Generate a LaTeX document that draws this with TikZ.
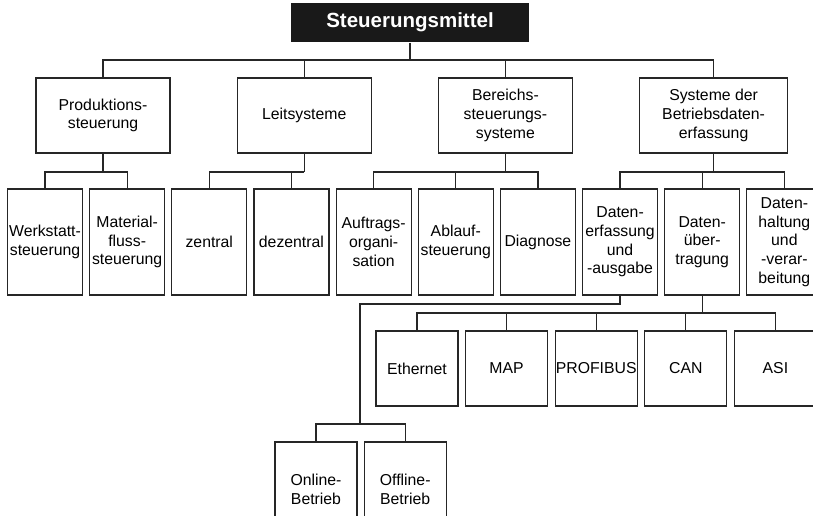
\documentclass[tikz,border=0pt]{standalone}
\usepackage{fontspec}
\setmainfont{Liberation Sans}
\usetikzlibrary{positioning}

\begin{document}
\begin{tikzpicture}[x=1pt, y=-1pt, line width=1.2pt, draw=black!85,
  every node/.style={font=\fontsize{15.8}{18.7}\selectfont, align=center, inner sep=0pt},
  topbox/.style={fill=black!90, text=white, font=\fontsize{20.5}{24}\selectfont\bfseries,
    minimum width=238pt, minimum height=39pt},
  groupbox/.style={draw, minimum width=134pt, minimum height=75pt},
  subbox/.style={draw, minimum width=75pt, minimum height=106pt},
  busbox/.style={draw, minimum width=82pt, minimum height=75pt},
  modebox/.style={draw, minimum width=82pt, minimum height=95pt}]
\useasboundingbox (0,0) rectangle (813,515);
\clip (0,0) rectangle (813,515);

% root and first level
\node (mittel) [topbox] at (410,22.5) {Steuerungsmittel};
\node (prod) [groupbox] at (103,115.5) {Produktions-\\steuerung};
\node (leit) [groupbox, right=66pt of prod] {Leitsysteme};
\node (ber) [groupbox, right=66pt of leit] {Bereichs-\\steuerungs-\\systeme};
\node (bde) [groupbox, minimum width=148pt, right=66pt of ber] {Systeme der\\Betriebsdaten-\\erfassung};

% second level
\node (werk) [subbox] at (45,242) {Werkstatt-\\steuerung};
\node (mat) [subbox, right=5.95pt of werk] {Material-\\fluss-\\steuerung};
\node (zent) [subbox, right=5.95pt of mat] {zentral};
\node (dez) [subbox, right=5.95pt of zent] {dezentral};
\node (auf) [subbox, right=5.95pt of dez] {Auftrags-\\organi-\\sation};
\node (abl) [subbox, right=5.95pt of auf] {Ablauf-\\steuerung};
\node (diag) [subbox, right=5.95pt of abl] {Diagnose};
\node (erf) [subbox, right=5.95pt of diag] {Daten-\\erfassung\\und\\-ausgabe};
\node (uebt) [subbox, right=5.95pt of erf] {Daten-\\über-\\tragung};
\node (halt) [subbox, right=5.95pt of uebt] {Daten-\\haltung\\und\\-verar-\\beitung};

% bus systems
\node (eth) [busbox] at (417,368.5) {Ethernet};
\node (map) [busbox, right=6.4pt of eth] {MAP};
\node (prof) [busbox, right=6.4pt of map] {PROFIBUS};
\node (can) [busbox, right=6.4pt of prof] {CAN};
\node (asi) [busbox, right=6.4pt of can] {ASI};

% operating modes
\node (onl) [modebox] at (316,489.5) {Online-\\Betrieb};
\node (offl) [modebox, right=6pt of onl] {Offline-\\Betrieb};

\coordinate (bus0) at (410,60);
\coordinate (bus1) at (0,172);
\coordinate (bus2) at (0,313);
\coordinate (knee) at (360,304);
\coordinate (bus3) at (0,424);

\draw (mittel) -- (bus0);
\draw (prod) |- (bus0) -| (bde);
\draw (leit) -- (leit |- bus0);
\draw (ber) -- (ber |- bus0);

\draw (prod) -- (prod |- bus1);
\draw (werk) |- (prod |- bus1) -| (mat);
\draw (leit) -- (leit |- bus1);
\draw (zent) |- (leit |- bus1);
\draw (dez) -- (dez |- bus1);
\draw (ber) -- (ber |- bus1);
\draw (auf) |- (ber |- bus1) -| (diag);
\draw (abl) -- (abl |- bus1);
\draw (bde) -- (bde |- bus1);
\draw (erf) |- (bde |- bus1) -| (halt);
\draw (uebt) -- (uebt |- bus1);

\draw (uebt) -- (uebt |- bus2);
\draw (eth) |- (uebt |- bus2) -| (asi);
\foreach \n in {map, prof, can}
  \draw (\n) -- (\n |- bus2);

\draw (erf) |- (knee) -- (knee |- bus3);
\draw (onl) |- (knee |- bus3) -| (offl);
\end{tikzpicture}
\end{document}
